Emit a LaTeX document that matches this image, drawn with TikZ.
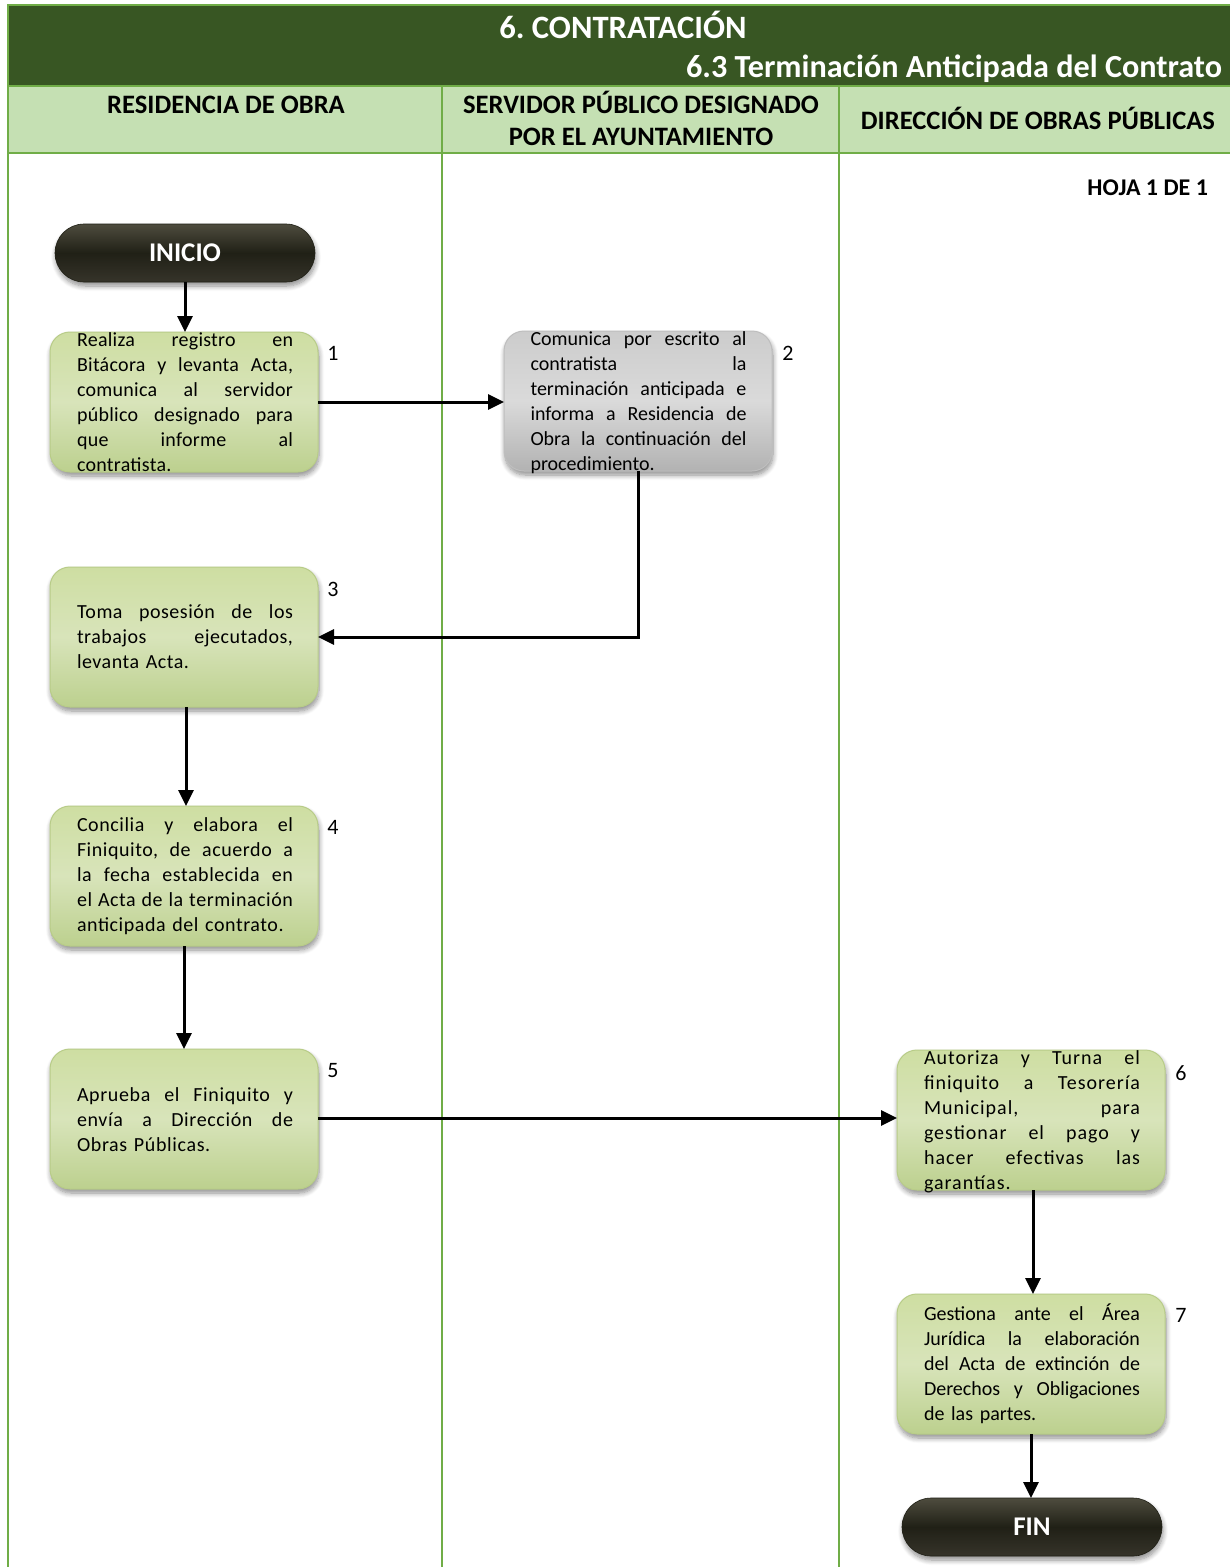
\documentclass[tikz,border=0pt]{standalone}
\usepackage{fontspec}
\setmainfont{Carlito}
\usetikzlibrary{arrows.meta,shadows.blur}

\definecolor{frame}{RGB}{112,173,71}
\definecolor{titlebg}{RGB}{56,86,35}
\definecolor{headbg}{RGB}{197,224,179}
\definecolor{gtop}{RGB}{206,222,162}
\definecolor{gmid}{RGB}{216,228,186}
\definecolor{gbot}{RGB}{188,208,142}
\definecolor{gedge}{RGB}{184,204,136}
\definecolor{ytop}{RGB}{204,204,204}
\definecolor{ymid}{RGB}{218,218,218}
\definecolor{ybot}{RGB}{178,178,178}
\definecolor{yedge}{RGB}{190,190,190}
\definecolor{ttop}{RGB}{78,76,62}
\definecolor{tmid}{RGB}{32,32,22}
\definecolor{tbot}{RGB}{54,52,42}

% one justified line of a step text, spaces stretched to the full width
\newcommand{\jl}[1]{\leavevmode\hbox to 216pt{\spaceskip=0.23em plus 1fil\relax #1}}

\begin{document}
\frenchspacing
\begin{tikzpicture}[x=1pt,y=-1pt,
  every node/.style={inner sep=0pt, outer sep=0pt},
  lane/.style={draw=frame, line width=1.3pt},
  shadowed/.style={blur shadow={shadow xshift=1pt, shadow yshift=-4pt, shadow blur steps=8, shadow blur radius=5pt, shadow opacity=45}},
  gbox/.style={shadowed, rounded corners=20pt, minimum width=268pt, minimum height=140pt,
    top color=gtop, bottom color=gbot, middle color=gmid, draw=gedge, line width=1pt},
  ybox/.style={shadowed, rounded corners=20pt, minimum width=268pt, minimum height=140pt,
    top color=ytop, bottom color=ybot, middle color=ymid, draw=yedge, line width=1pt},
  term/.style={shadowed, rounded corners=29pt, minimum width=260pt, minimum height=58pt,
    top color=ttop, bottom color=tbot, middle color=tmid, draw=tmid, line width=0.6pt,
    text=white, font=\fontsize{27}{30}\selectfont\bfseries},
  steptext/.style={text width=216pt, align=left, font=\fontsize{20}{25}\selectfont},
  num/.style={font=\fontsize{22}{26}\selectfont},
  titletext/.style={text=white, font=\fontsize{32.6}{36}\selectfont\bfseries, anchor=base},
  headtext/.style={font=\fontsize{26.6}{32}\selectfont\bfseries, anchor=base},
  arr/.style={line width=3pt, -{Triangle[length=16pt,width=15pt]}}
]
\useasboundingbox (0,0) rectangle (1230,1567);

% title and lane header bands
\fill[titlebg] (8,5) rectangle (1232,86);
\fill[headbg] (8,86) rectangle (1232,153);
\draw[lane] (1232,5) -- (8,5) -- (8,1570);
\draw[lane] (8,86) -- (1232,86);
\draw[lane] (8,153) -- (1232,153);
\draw[lane] (442,86) -- (442,1570);
\draw[lane] (839,86) -- (839,1570);

\node[titletext] (title) at (623,38.4) {6. CONTRATACIÓN};
\node[titletext, font=\fontsize{32.2}{36}\selectfont\bfseries, anchor=base east] (subtitle) at (1222,77.4) {6.3 Terminación Anticipada del Contrato};

\node[headtext] (laneA) at (226,113.5) {RESIDENCIA DE OBRA};
\node[headtext] (laneB1) at (641,113.5) {SERVIDOR PÚBLICO DESIGNADO};
\node[headtext] (laneB2) at (641,145.5) {POR EL AYUNTAMIENTO};
\node[headtext] (laneC) at (1038,129.5) {DIRECCIÓN DE OBRAS PÚBLICAS};

\node[font=\fontsize{24}{28}\selectfont\bfseries, anchor=base east] (sheet) at (1208,195.7) {HOJA 1 DE 1};

% start and end
\node[term] (inicio) at (185,253) {INICIO};
\node[term] (fin) at (1032,1527) {FIN};

% process steps
\node[gbox] (b1) at (184,402) {};
\node[steptext, font=\fontsize{20}{25}\selectfont\addfontfeature{LetterSpace=1.4}] (b1t) at (185,402) {\jl{Realiza registro en}\\\jl{Bitácora y levanta Acta,}\\\jl{comunica al servidor}\\\jl{público designado para}\\\jl{que informe al}\\contratista.};
\node[num] (n1) at (333,353) {1};

\node[ybox] (b2) at (638,401) {};
\node[steptext] (b2t) at (638.5,403) {\jl{Comunica por escrito al}\\\jl{contratista la}\\\jl{terminación anticipada e}\\\jl{informa a Residencia de}\\\jl{Obra la continuación del}\\procedimiento.};
\node[num] (n2) at (788,353) {2};

\node[gbox] (b3) at (184,637) {};
\node[steptext, font=\fontsize{20}{25}\selectfont\addfontfeature{LetterSpace=2.5}] (b3t) at (185,637) {\jl{Toma posesión de los}\\\jl{trabajos ejecutados,}\\levanta Acta.};
\node[num] (n3) at (333,589) {3};

\node[gbox] (b4) at (184,876) {};
\node[steptext, font=\fontsize{20}{25}\selectfont\addfontfeature{LetterSpace=2.8}] (b4t) at (185,876) {\jl{Concilia y elabora el}\\\jl{Finiquito, de acuerdo a}\\\jl{la fecha establecida en}\\\jl{el Acta de la terminación}\\anticipada del contrato.};
\node[num] (n4) at (333,827) {4};

\node[gbox] (b5) at (184,1119) {};
\node[steptext, font=\fontsize{20}{25}\selectfont\addfontfeature{LetterSpace=3.2}] (b5t) at (185,1120) {\jl{Aprueba el Finiquito y}\\\jl{envía a Dirección de}\\Obras Públicas.};
\node[num] (n5) at (333,1071) {5};

\node[gbox] (b6) at (1031,1120) {};
\node[steptext, font=\fontsize{20}{25}\selectfont\addfontfeature{LetterSpace=5}] (b6t) at (1032,1122) {\jl{Autoriza y Turna el}\\\jl{finiquito a Tesorería}\\\jl{Municipal, para}\\\jl{gestionar el pago y}\\\jl{hacer efectivas las}\\garantías.};
\node[num] (n6) at (1181,1073) {6};

\node[gbox] (b7) at (1031,1364) {};
\node[steptext] (b7t) at (1032,1364) {\jl{Gestiona ante el Área}\\\jl{Jurídica la elaboración}\\\jl{del Acta de extinción de}\\\jl{Derechos y Obligaciones}\\de las partes.};
\node[num] (n7) at (1181,1315) {7};

% connectors
\draw[arr] (inicio.south) -- (inicio.south |- b1.north);
\draw[arr] (b1.east) -- (b1.east -| b2.west);
\draw[arr] (b2.south) |- (b3.east);
\draw[arr] ([xshift=2pt]b3.south) -- ([xshift=2pt]b4.north);
\draw[arr] (b4.south) -- (b5.north);
\draw[arr] ([yshift=1pt]b5.east) -- ([yshift=1pt]b5.east -| b6.west);
\draw[arr] ([xshift=2pt]b6.south) -- ([xshift=2pt]b7.north);
\draw[arr] (b7.south) -- (b7.south |- fin.north);
\end{tikzpicture}
\end{document}
